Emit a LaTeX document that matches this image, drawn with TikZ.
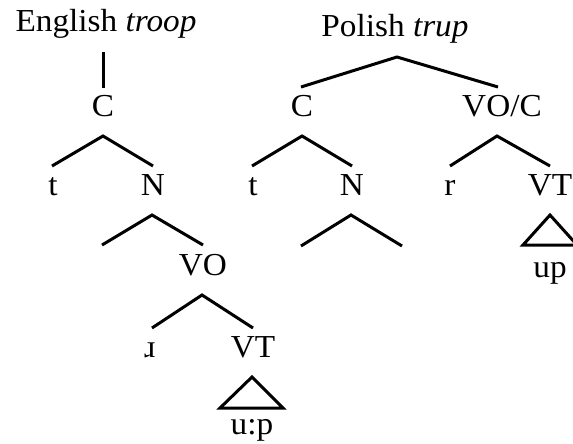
\documentclass[tikz,border=0pt]{standalone}
\usepackage{fontspec}
\setmainfont[FakeStretch=1.04]{Liberation Serif}
\begin{document}
\begin{tikzpicture}[x=1pt,y=-1pt,
  lbl/.style={anchor=base, inner sep=0pt, font=\fontsize{32}{36}\selectfont},
  br/.style={line width=3pt, line join=miter}]
\useasboundingbox (0,0) rectangle (573,444);
% English tree
\node[lbl] (eng) at (106,32) {English \textit{troop}};
\coordinate (e0a) at (103,52);
\coordinate (e0b) at (103,88);
\draw[br] (e0a) -- (e0b);
\node[lbl] (eC) at (103,117) {C};
\coordinate (eCl) at (52,166); \coordinate (eCa) at (103,136); \coordinate (eCr) at (153,166);
\draw[br] (eCl) -- (eCa) -- (eCr);
\node[lbl] (et) at (53,195) {t};
\node[lbl] (eN) at (153,195) {N};
\coordinate (eNl) at (102,245); \coordinate (eNa) at (152,215); \coordinate (eNr) at (203,245);
\draw[br] (eNl) -- (eNa) -- (eNr);
\node[lbl] (eVO) at (203,275) {VO};
\coordinate (eVl) at (152,328); \coordinate (eVa) at (202,295); \coordinate (eVr) at (253,328);
\draw[br] (eVl) -- (eVa) -- (eVr);
\node[lbl] (er) at (150,357) {ɹ};
\node[lbl] (eVT) at (253,357) {VT};
\coordinate (eTa) at (252,377); \coordinate (eTl) at (220,408); \coordinate (eTr) at (283,408);
\draw[br] (eTa) -- (eTl) -- (eTr) -- cycle;
\node[lbl] (eup) at (252,434) {u:p};
% Polish tree
\node[lbl] (pol) at (395,37) {Polish \textit{trup}};
\coordinate (pl) at (301,87); \coordinate (pa) at (397,57); \coordinate (pr) at (498,87);
\draw[br] (pl) -- (pa) -- (pr);
\node[lbl] (pC) at (302,117) {C};
\node[lbl] (pVOC) at (502,117) {VO/C};
\coordinate (pCl) at (252,166); \coordinate (pCa) at (302,136); \coordinate (pCr) at (352,166);
\draw[br] (pCl) -- (pCa) -- (pCr);
\node[lbl] (pt) at (253,195) {t};
\node[lbl] (pN) at (352,195) {N};
\coordinate (pNl) at (301,246); \coordinate (pNa) at (351,215); \coordinate (pNr) at (402,246);
\draw[br] (pNl) -- (pNa) -- (pNr);
\coordinate (pVl) at (450,166); \coordinate (pVa) at (497,136); \coordinate (pVr) at (550,166);
\draw[br] (pVl) -- (pVa) -- (pVr);
\node[lbl] (pr2) at (450,195) {r};
\node[lbl] (pVT) at (550,195) {VT};
\coordinate (pTa) at (550,215); \coordinate (pTl) at (523,245); \coordinate (pTr) at (577,245);
\draw[br] (pTa) -- (pTl) -- (pTr) -- cycle;
\node[lbl] (pup) at (550,277) {up};
\end{tikzpicture}
\end{document}
